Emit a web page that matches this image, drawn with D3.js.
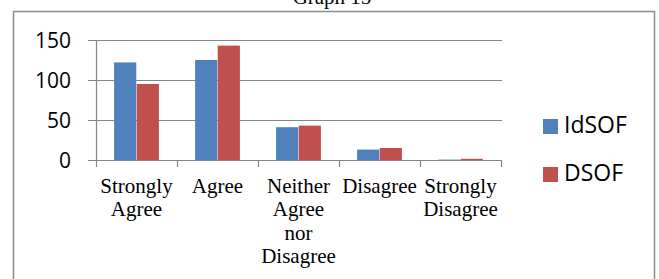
<!DOCTYPE html>
<html><head><meta charset="utf-8">
<script src="https://cdn.jsdelivr.net/npm/d3@7"></script>
<style>html,body{margin:0;padding:0;background:#fff;overflow:hidden}</style>
</head><body>
<svg id="c" width="659" height="279"></svg>
<script>
const categories = ["Strongly Agree", "Agree", "Neither Agree nor Disagree", "Disagree", "Strongly Disagree"];
const categoryLines = [["Strongly","Agree"],["Agree"],["Neither","Agree","nor","Disagree"],["Disagree"],["Strongly","Disagree"]];
const seriesNames = ["IdSOF", "DSOF"];
const idsof = [122, 125, 41, 13, 0.5];
const dsof = [95, 143, 43, 15, 1.5];
const yTicks = [0, 50, 100, 150];
const colors = ["#4F81BD", "#C0504D"];

const svg = d3.select("#c");
// outer frame
svg.append("rect").attr("x",13.5).attr("y",11.5).attr("width",641).attr("height",282)
  .attr("fill","none").attr("stroke","#8c8c8c").attr("stroke-width",1.5);
// title (clipped at top, as in the reference)
svg.append("text").attr("x",332).attr("y",4).attr("text-anchor","middle")
  .attr("font-family","Liberation Serif").attr("font-size",21).attr("fill","#000").text("Graph 15");

const x0 = 96, x1 = 501, yTop = 40, yBot = 160;
const x = d3.scaleBand().domain(categories).range([x0, x1]);
const y = d3.scaleLinear().domain([0,150]).range([yBot, yTop]);
const xs = d3.scaleBand().domain(seriesNames).range([0, x.bandwidth()]).paddingInner(0.02).paddingOuter(0.8);

// gridlines
svg.append("g").selectAll("line").data(yTicks).join("line")
  .attr("x1",88).attr("x2",x1+1).attr("y1",d=>y(d)+0.5).attr("y2",d=>y(d)+0.5)
  .attr("stroke","#868686").attr("stroke-width",1.2);
// y axis line
svg.append("line").attr("x1",x0+0.5).attr("x2",x0+0.5).attr("y1",yTop).attr("y2",yBot+1)
  .attr("stroke","#868686").attr("stroke-width",1.2);
// x ticks
const bounds = categories.map(c=>x(c)).concat([x1]);
svg.append("g").selectAll("line").data(bounds).join("line")
  .attr("x1",d=>d+0.5).attr("x2",d=>d+0.5).attr("y1",yBot).attr("y2",yBot+7)
  .attr("stroke","#868686").attr("stroke-width",1.2);

// y labels
svg.append("g").selectAll("text").data(yTicks).join("text")
  .attr("x",71).attr("y",d=>y(d)+7.5).attr("text-anchor","end")
  .attr("font-family","Open Sans").attr("font-size",21).attr("fill","#000").text(d=>d);

// bars
const data = [idsof, dsof];
data.forEach((vals, si) => {
  svg.append("g").selectAll("rect").data(vals).join("rect")
    .attr("x",(d,i)=>x(categories[i]) + xs(seriesNames[si]))
    .attr("width",xs.bandwidth())
    .attr("y",d=>y(d)).attr("height",d=>yBot - y(d))
    .attr("fill",colors[si]);
});

// x labels
categoryLines.forEach((lines, i) => {
  const t = svg.append("text").attr("text-anchor","middle")
    .attr("font-family","Liberation Serif").attr("font-size",21).attr("fill","#000");
  lines.forEach((ln, j) => {
    t.append("tspan").attr("x", x(categories[i]) + x.bandwidth()/2).attr("y", 193 + j*23.3).text(ln);
  });
});

// legend
seriesNames.forEach((s, i) => {
  const ly = 119 + i*48;
  svg.append("rect").attr("x",543).attr("y",ly).attr("width",15).attr("height",15).attr("fill",colors[i]);
  svg.append("text").attr("x",564).attr("y",ly+14).attr("font-family","Open Sans")
    .attr("font-size",23).attr("fill","#000").text(s);
});
</script>
</body></html>
